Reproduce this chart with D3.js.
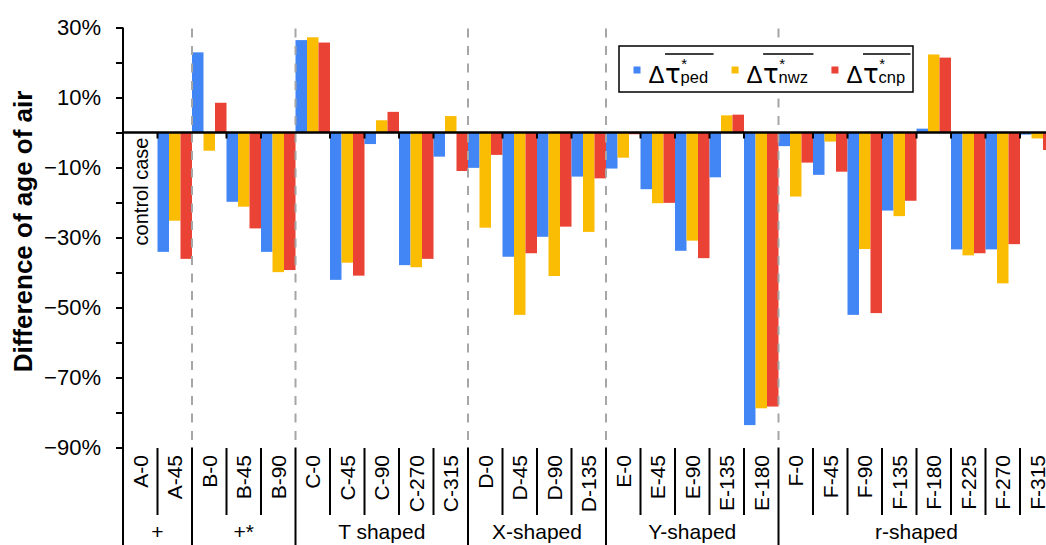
<!DOCTYPE html>
<html>
<head>
<meta charset="utf-8">
<script src="https://cdn.jsdelivr.net/npm/d3@7"></script>
<style>
  html, body { margin: 0; padding: 0; background: #fff; overflow: hidden; }
  svg { display: block; font-family: "Liberation Sans", Arial, sans-serif; }
</style>
</head>
<body>
<svg id="chart" width="1046" height="545"></svg>
<script>
// Cases along the horizontal axis
const categories = ["A-0", "A-45",
  "B-0", "B-45", "B-90",
  "C-0", "C-45", "C-90", "C-270", "C-315",
  "D-0", "D-45", "D-90", "D-135",
  "E-0", "E-45", "E-90", "E-135", "E-180",
  "F-0", "F-45", "F-90", "F-135", "F-180", "F-225", "F-270", "F-315"];

// Layout families and how many cases each holds
const groupNames = ["+", "+*", "T shaped", "X-shaped", "Y-shaped", "r-shaped"];
const groupSizes = [2, 3, 5, 4, 5, 8];

// Relative change of mean age of air (%), A-0 is the reference case
const ped = [null, -34.1, 22.9, -19.8, -34.1, 26.4, -42.1, -3.3, -37.9, -6.9,
  -10.1, -35.5, -29.8, -12.6, -10.3, -16.2, -33.8, -12.8, -83.6,
  -3.9, -12.1, -52.1, -22.3, 1.1, -33.4, -33.4, -0.6];
const nwz = [null, -25.2, -5.2, -21.2, -39.9, 27.2, -37.2, 3.5, -38.5, 4.7,
  -27.2, -52.1, -41.0, -28.4, -7.2, -20.2, -30.9, 4.9, -78.8,
  -18.3, -2.6, -33.3, -23.9, 22.3, -35.1, -43.1, -1.7];
const cnp = [null, -36.1, 8.5, -27.4, -39.3, 25.7, -40.9, 5.9, -36.1, -11.0,
  -6.4, -34.5, -26.9, -13.1, -0.5, -20.1, -35.9, 5.1, -78.3,
  -8.6, -11.2, -51.6, -19.5, 21.4, -34.5, -31.9, -5.0];

const seriesKeys = ["ped", "nwz", "cnp"];
const seriesValues = [ped, nwz, cnp];
const seriesColors = ["#4285F4", "#FBBC04", "#EA4335"];

const yTicks = [30, 20, 10, 0, -10, -20, -30, -40, -50, -60, -70, -80, -90];

const svg = d3.select("#chart");

const plotLeft = 123, plotTop = 27.5, plotBottom = 447.5, bandW = 34.5;
const plotRight = plotLeft + bandW * categories.length;

const x = d3.scaleBand().domain(categories).range([plotLeft, plotRight]).padding(0);
const xs = d3.scaleBand().domain(seriesKeys).range([0, x.bandwidth()]).padding(0);
const y = d3.scaleLinear().domain([-90, 30]).range([plotBottom, plotTop]);

// Bars
const rows = [];
categories.forEach((c, i) => {
  seriesKeys.forEach((k, j) => {
    const v = seriesValues[j][i];
    if (v !== null) rows.push({ c, k, v, color: seriesColors[j] });
  });
});
svg.append("g").selectAll("rect").data(rows).join("rect")
  .attr("x", d => x(d.c) + xs(d.k))
  .attr("width", xs.bandwidth())
  .attr("y", d => y(Math.max(0, d.v)))
  .attr("height", d => Math.abs(y(d.v) - y(0)))
  .attr("fill", d => d.color);

// Group boundaries
const groupStarts = [];
let acc = 0;
groupSizes.forEach(n => { groupStarts.push(acc); acc += n; });
const boundaryIdx = groupStarts.slice(1).concat([acc]);
const boundaryX = i => plotLeft + bandW * i;

svg.append("g").selectAll("line").data(boundaryIdx).join("line")
  .attr("x1", i => boundaryX(i)).attr("x2", i => boundaryX(i))
  .attr("y1", plotTop + 1).attr("y2", plotBottom)
  .attr("stroke", "#A6A6A6").attr("stroke-width", 2)
  .attr("stroke-dasharray", "9,8.5");

// Zero line with small ticks at case boundaries
svg.append("line")
  .attr("x1", plotLeft).attr("x2", plotRight)
  .attr("y1", y(0)).attr("y2", y(0))
  .attr("stroke", "#000").attr("stroke-width", 2.5);

const innerIdx = d3.range(1, categories.length).filter(i => !boundaryIdx.includes(i));
svg.append("g").selectAll("line").data(innerIdx).join("line")
  .attr("x1", i => boundaryX(i)).attr("x2", i => boundaryX(i))
  .attr("y1", y(0)).attr("y2", y(0) + 6)
  .attr("stroke", "#000").attr("stroke-width", 2);

// Label table below the plot
svg.append("g").selectAll("line").data(innerIdx).join("line")
  .attr("x1", i => boundaryX(i)).attr("x2", i => boundaryX(i))
  .attr("y1", 448).attr("y2", 515)
  .attr("stroke", "#000").attr("stroke-width", 2);
svg.append("g").selectAll("line").data(boundaryIdx).join("line")
  .attr("x1", i => boundaryX(i)).attr("x2", i => boundaryX(i))
  .attr("y1", plotBottom).attr("y2", 545)
  .attr("stroke", "#000").attr("stroke-width", 2);

svg.append("g").selectAll("text").data(categories).join("text")
  .attr("transform", c => `translate(${x(c) + x.bandwidth() / 2 + 7.5},455) rotate(-90)`)
  .attr("text-anchor", "end")
  .attr("font-size", 21)
  .attr("fill", "#000")
  .text(c => c);

svg.append("g").selectAll("text").data(groupNames).join("text")
  .attr("x", (g, i) => plotLeft + bandW * (groupStarts[i] + groupSizes[i] / 2))
  .attr("y", 539)
  .attr("text-anchor", "middle")
  .attr("font-size", 21)
  .attr("fill", "#000")
  .text(g => g);

// Y axis
svg.append("line")
  .attr("x1", plotLeft).attr("x2", plotLeft)
  .attr("y1", plotTop).attr("y2", 545)
  .attr("stroke", "#000").attr("stroke-width", 2);

const fmt = v => ((v + 90) % 20 === 0) ? (v < 0 ? "\u2212" : "") + Math.abs(v) + "%" : "";
const yAxis = svg.append("g")
  .attr("transform", `translate(${plotLeft},0)`)
  .call(d3.axisLeft(y).tickValues(yTicks).tickSize(7).tickPadding(15).tickFormat(fmt));
yAxis.select(".domain").remove();
yAxis.selectAll(".tick line").attr("stroke", "#000").attr("stroke-width", 2);
yAxis.selectAll(".tick text")
  .attr("font-size", 22)
  .attr("font-family", "'Liberation Sans', Arial, sans-serif")
  .attr("fill", "#000");

svg.append("text")
  .attr("transform", `translate(32,${(93 + 370) / 2}) rotate(-90)`)
  .attr("text-anchor", "middle")
  .attr("font-size", 26)
  .attr("font-weight", "bold")
  .attr("fill", "#000")
  .text("Difference of age of air");

// Reference case note
svg.append("text")
  .attr("transform", `translate(${x("A-0") + x.bandwidth() / 2 + 8},191.5) rotate(-90)`)
  .attr("text-anchor", "middle")
  .attr("font-size", 20)
  .attr("fill", "#000")
  .text("control case");

// Legend
const lg = svg.append("g");
lg.append("rect")
  .attr("x", 619).attr("y", 46).attr("width", 294).attr("height", 46)
  .attr("fill", "#fff").attr("stroke", "#000").attr("stroke-width", 1.5);

let cx = 633.5;
const baseY = 83;
seriesKeys.forEach((k, j) => {
  lg.append("rect").attr("x", cx).attr("y", 66.5).attr("width", 7).attr("height", 7)
    .attr("fill", seriesColors[j]);
  const t = lg.append("text").attr("x", cx + 15).attr("y", baseY).attr("fill", "#000");
  t.append("tspan").attr("font-size", 24).text("\u0394");
  t.append("tspan").attr("font-size", 26).attr("font-family", "'DejaVu Sans', sans-serif")
    .attr("dx", 0.5).text("\u03C4");
  t.append("tspan").attr("font-size", 15).attr("dx", 0.5).attr("dy", -14).text("*");
  t.append("tspan").attr("font-size", 16.5).attr("dx", -6.5).attr("dy", 14).text(k);
  const node = t.node();
  const x0 = node.getStartPositionOfChar(1).x;
  const x1 = cx + 15 + node.getComputedTextLength();
  lg.append("line").attr("x1", x0).attr("x2", x1).attr("y1", 54).attr("y2", 54)
    .attr("stroke", "#000").attr("stroke-width", 1.3);
  cx = x1 + 18;
});
</script>
</body>
</html>
